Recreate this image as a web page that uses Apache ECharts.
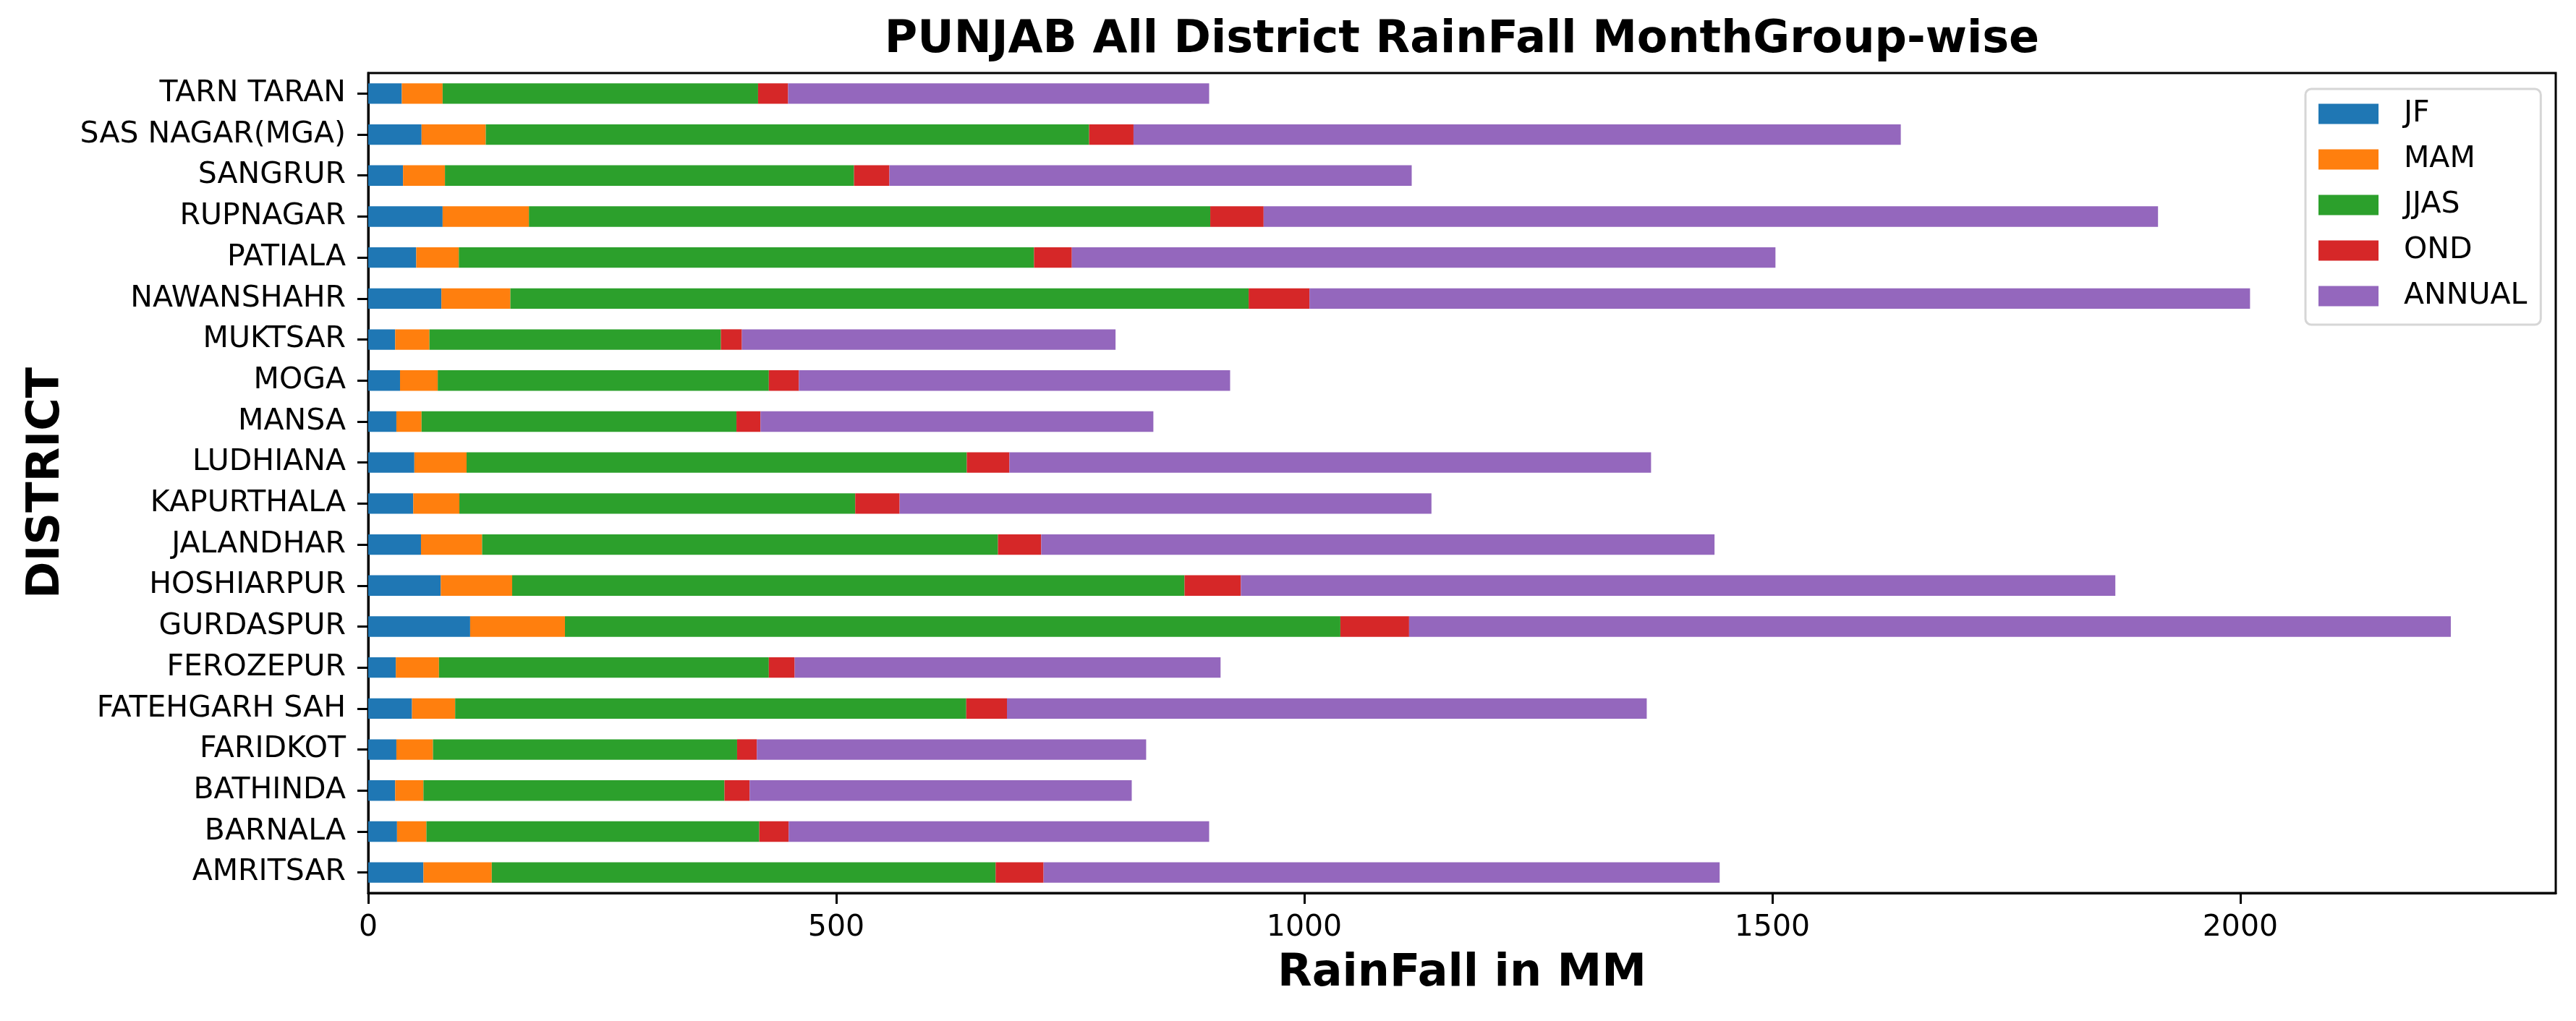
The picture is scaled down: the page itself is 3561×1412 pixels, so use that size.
<!DOCTYPE html>
<html>
	<head>
		<meta charset="utf-8">
		<title>PUNJAB All District RainFall MonthGroup-wise</title>
		<script src="https://cdn.jsdelivr.net/npm/echarts@6/dist/echarts.min.js"></script>
		<style type="text/css">
			html, body {
				margin: 0;
				padding: 0;
				background: #ffffff;
			}

			#main {
				width: 3561px;
				height: 1412px;
			}
		</style>
	</head>

	<body>
		<div id="main"></div>

		<script>
			// 区县 (下→上)
			var districts = ['AMRITSAR', 'BARNALA', 'BATHINDA', 'FARIDKOT', 'FATEHGARH SAH', 'FEROZEPUR',
				'GURDASPUR', 'HOSHIARPUR', 'JALANDHAR', 'KAPURTHALA', 'LUDHIANA', 'MANSA', 'MOGA',
				'MUKTSAR', 'NAWANSHAHR', 'PATIALA', 'RUPNAGAR', 'SANGRUR', 'SAS NAGAR(MGA)', 'TARN TARAN'
			];

			var jf = [59.0, 30.8, 28.8, 30.1, 46.8, 29.5, 108.9, 77.5, 56.4, 48.1, 49.3, 30.1, 34.0, 28.8, 78.2, 51.3, 79.5, 37.2, 57.0, 35.9];
			var mam = [73.0, 31.4, 30.2, 39.1, 46.1, 46.1, 101.3, 76.3, 65.3, 49.3, 55.8, 26.9, 40.3, 36.6, 73.7, 45.5, 92.2, 44.8, 68.6, 43.6];
			var jjas = [538.3, 355.6, 321.6, 324.9, 546.0, 352.4, 828.4, 718.3, 551.1, 422.9, 534.4, 336.4, 353.7, 311.4, 788.7, 614.5, 727.9, 437.0, 644.6, 337.0];
			var ond = [51.2, 31.4, 26.9, 21.1, 43.5, 27.6, 73.4, 60.2, 46.2, 47.4, 45.5, 25.7, 32.1, 22.4, 65.0, 40.4, 57.0, 37.8, 47.4, 32.1];
			var annual = [722.3, 449.2, 408.2, 415.9, 683.5, 455.0, 1112.9, 934.2, 719.3, 568.2, 685.5, 419.7, 460.7, 399.2, 1004.8, 751.7, 955.5, 558.0, 819.7, 449.8];

			var seriesNames = ['JF', 'MAM', 'JJAS', 'OND', 'ANNUAL'];
			var seriesColors = ['#1f77b4', '#ff7f0e', '#2ca02c', '#d62728', '#9467bd'];
			var xTicks = [0, 500, 1000, 1500, 2000];

			var font = 'DejaVu Sans';
			var chart = echarts.init(document.getElementById('main'));

			var allData = [jf, mam, jjas, ond, annual];
			var series = [];
			for (var i = 0; i < seriesNames.length; i++) {
				series.push({
					name: seriesNames[i],
					type: 'bar',
					stack: 'total',
					barWidth: '50%',
					animation: false,
					itemStyle: {
						color: seriesColors[i]
					},
					data: allData[i]
				});
			}

			chart.setOption({
				backgroundColor: '#ffffff',
				title: {
					text: 'PUNJAB All District RainFall MonthGroup-wise',
					left: 2021,
					textAlign: 'center',
					top: 25,
					padding: 0,
					textStyle: {
						fontFamily: font,
						fontWeight: 'bold',
						fontSize: 62,
						color: '#000'
					}
				},
				legend: {
					data: seriesNames,
					orient: 'vertical',
					left: 3187,
					top: 123,
					padding: [14, 19, 19, 18],
					itemWidth: 83,
					itemHeight: 28,
					itemGap: 22,
					borderColor: '#d6d6d6',
					borderWidth: 3,
					borderRadius: 8,
					icon: 'rect',
					textStyle: {
						fontFamily: font,
						fontSize: 41,
						color: '#000',
						padding: [0, 0, 0, 30]
					}
				},
				grid: {
					left: 509,
					right: 28,
					top: 101,
					bottom: 177,
					show: true,
					borderColor: '#000',
					borderWidth: 3,
					backgroundColor: 'transparent'
				},
				xAxis: {
					type: 'value',
					min: 0,
					max: 2337,
					interval: 500,
					name: 'RainFall in MM',
					nameLocation: 'middle',
					nameGap: 81,
					nameTextStyle: {
						fontFamily: font,
						fontWeight: 'bold',
						fontSize: 62,
						color: '#000'
					},
					axisLine: {
						show: true,
						lineStyle: {
							color: '#000',
							width: 3
						}
					},
					axisTick: {
						show: true,
						length: 15,
						customValues: xTicks,
						lineStyle: {
							color: '#000',
							width: 3
						}
					},
					axisLabel: {
						margin: 28,
						customValues: xTicks,
						fontFamily: font,
						fontSize: 41,
						color: '#000',
						formatter: function(v) {
							return String(v);
						}
					},
					splitLine: {
						show: false
					}
				},
				yAxis: {
					type: 'category',
					data: districts,
					name: 'DISTRICT',
					nameLocation: 'middle',
					nameGap: 413,
					nameTextStyle: {
						fontFamily: font,
						fontWeight: 'bold',
						fontSize: 62,
						color: '#000'
					},
					axisLine: {
						show: true,
						lineStyle: {
							color: '#000',
							width: 3
						}
					},
					axisTick: {
						show: true,
						alignWithLabel: true,
						length: 15,
						lineStyle: {
							color: '#000',
							width: 3
						}
					},
					axisLabel: {
						margin: 31,
						fontFamily: font,
						fontSize: 41,
						color: '#000'
					},
					splitLine: {
						show: false
					}
				},
				series: series
			});
		</script>
	</body>
</html>
